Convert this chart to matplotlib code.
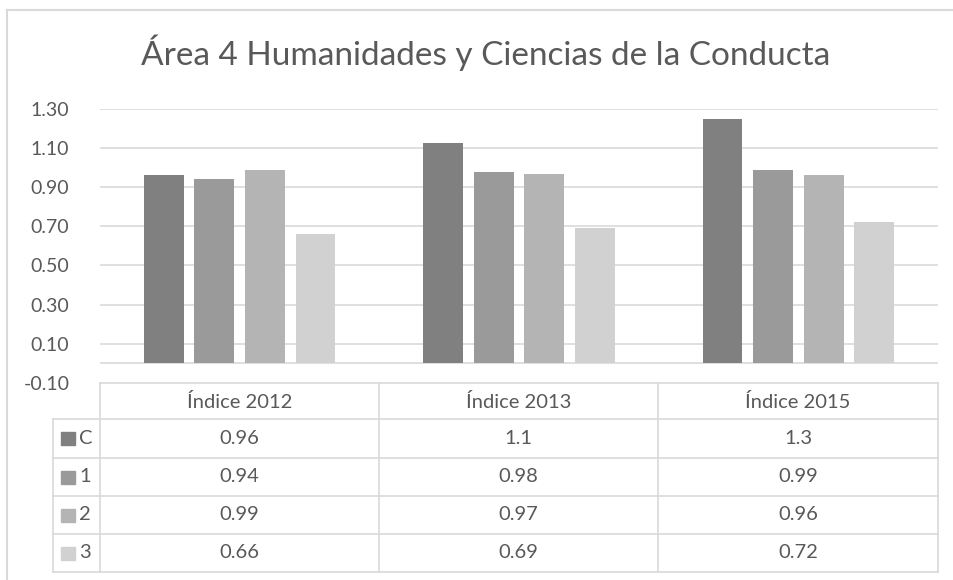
import matplotlib
matplotlib.use("Agg")
import matplotlib.pyplot as plt
import numpy as np

plt.rcParams['font.family'] = ['Lato', 'DejaVu Sans']

# data
categories = ["Índice 2012", "Índice 2013", "Índice 2015"]
series = ["C", "1", "2", "3"]
val_C = [0.96, 1.128, 1.25]
val_1 = [0.94, 0.98, 0.99]
val_2 = [0.99, 0.97, 0.96]
val_3 = [0.66, 0.69, 0.72]
# values as printed in the data table
lab_C = ["0.96", "1.1", "1.3"]
lab_1 = ["0.94", "0.98", "0.99"]
lab_2 = ["0.99", "0.97", "0.96"]
lab_3 = ["0.66", "0.69", "0.72"]
yticks = [-0.10, 0.10, 0.30, 0.50, 0.70, 0.90, 1.10, 1.30]

values = [val_C, val_1, val_2, val_3]
labels = [lab_C, lab_1, lab_2, lab_3]
colors = ["#808080", "#9a9a9a", "#b4b4b4", "#d1d1d1"]
txt = "#595959"
grid = "#d9d9d9"

W, H = 954, 580
fig = plt.figure(figsize=(W / 100, H / 100), dpi=100)

# pixel layout
px_left, px_right = 100, 938
px_top, px_bot = 109, 382.7
ax = fig.add_axes([px_left / W, 1 - px_bot / H, (px_right - px_left) / W, (px_bot - px_top) / H])

x = np.arange(len(categories))
step, width = 0.181, 0.143
for i, (vals, c) in enumerate(zip(values, colors)):
    ax.bar(x + (i - 1.5) * step, vals, width, color=c, zorder=3)

ax.set_xlim(-0.5, 2.5)
ax.set_ylim(-0.10, 1.30)
ax.set_yticks(yticks)
ax.set_yticklabels([f"{t:.2f}" for t in yticks], color=txt, fontsize=14)
ax.tick_params(axis='y', length=0, pad=22)
ax.set_xticks([])
for t in yticks[1:]:
    ax.axhline(t, color=grid, lw=1.2, zorder=1)
ax.axhline(0, color=grid, lw=1.2, zorder=2)
for s in ax.spines.values():
    s.set_visible(False)

fig.text(486 / W, 1 - 65 / H, "Área 4 Humanidades y Ciencias de la Conducta",
         ha='center', va='baseline', fontsize=24, color=txt)

# overlay in pixel coordinates for the data table and chart border
ov = fig.add_axes([0, 0, 1, 1])
ov.set_xlim(0, W)
ov.set_ylim(H, 0)
ov.axis('off')
ov.patch.set_visible(False)

# chart border (cropped on right and bottom)
ov.plot([7, 7], [10, H], color=grid, lw=1.5)
ov.plot([7, W], [10, 10], color=grid, lw=1.5)

col_x = [100, 379, 658, 938]
row_y = [382.7, 419.3, 458, 496, 534, 572]
leg_x = 53

# horizontal lines
ov.plot([col_x[0], col_x[-1]], [row_y[0], row_y[0]], color=grid, lw=1.2)
for yy in row_y[1:]:
    ov.plot([leg_x, col_x[-1]], [yy, yy], color=grid, lw=1.2)
# vertical lines
for xx in col_x:
    ov.plot([xx, xx], [row_y[0], row_y[-1]], color=grid, lw=1.2)
ov.plot([leg_x, leg_x], [row_y[1], row_y[-1]], color=grid, lw=1.2)

for j, cat in enumerate(categories):
    cx = (col_x[j] + col_x[j + 1]) / 2
    ov.text(cx, (row_y[0] + row_y[1]) / 2 + 1, cat, ha='center', va='center',
            fontsize=14.5, color=txt)
    for i in range(len(series)):
        cy = (row_y[i + 1] + row_y[i + 2]) / 2
        ov.text(cx, cy, labels[i][j], ha='center', va='center', fontsize=14.5, color=txt)

for i, (name, c) in enumerate(zip(series, colors)):
    cy = (row_y[i + 1] + row_y[i + 2]) / 2
    ov.add_patch(plt.Rectangle((61, cy - 6.5), 14, 13, color=c))
    ov.text(79, cy, name, ha='left', va='center', fontsize=14.5, color=txt)

plt.savefig("out.png", dpi=100)
plt.close()
